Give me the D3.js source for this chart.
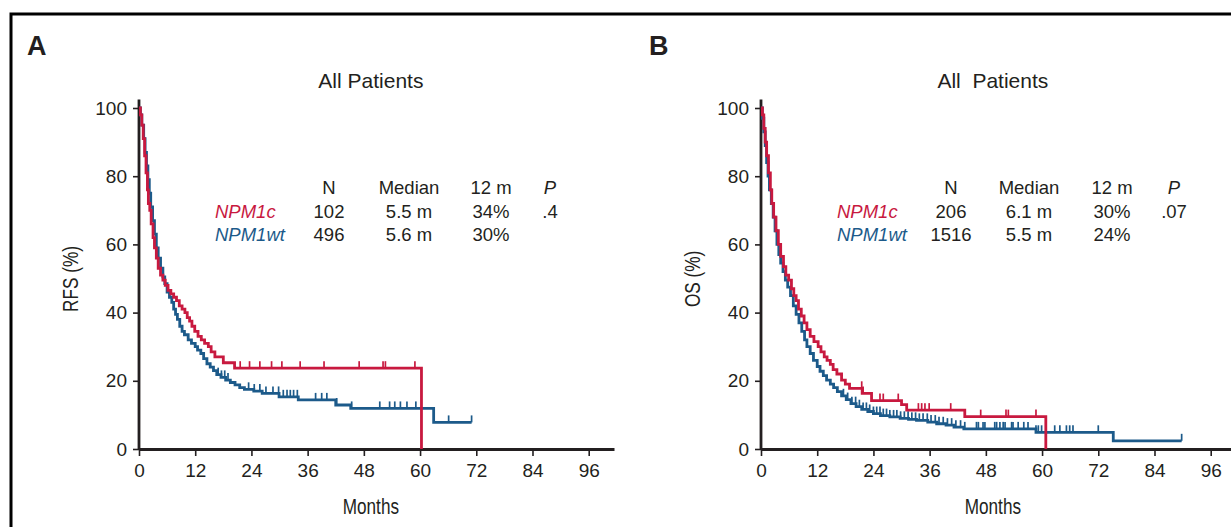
<!DOCTYPE html>
<html>
<head>
<meta charset="utf-8">
<style>
  body {margin: 0; background: #fff; font-family: "Liberation Sans", Arial, sans-serif;}
</style>
<script src="https://d3js.org/d3.v7.min.js"></script>
</head>
<body>
<div id="chart"></div>
<script>

const W = 1231, H = 527
const red = '#c8193f'
const blue = '#1c5a8a'
const ink = '#231f20'

const xTicks = [0, 12, 24, 36, 48, 60, 72, 84, 96]
const yTicks = [0, 20, 40, 60, 80, 100]
const panelLabels = ['A', 'B']
const titles = ['All Patients', 'All  Patients']
const yLabels = ['RFS (%)', 'OS (%)']
const tableHeader = ['N', 'Median', '12 m', 'P']
const groups = ['NPM1c', 'NPM1wt']

// table values per panel: [N, median, 12m, P]
const tableA = [['102', '5.5 m', '34%', '.4'], ['496', '5.6 m', '30%', '']]
const tableB = [['206', '6.1 m', '30%', '.07'], ['1516', '5.5 m', '24%', '']]

// step curves: [months, survival %]
const rfsNpm1c = [[0,100],[0.3,98],[0.6,95],[0.9,91],[1.2,86],[1.5,81],[1.8,76],[2.0,72],[2.3,70],[2.6,66],[3.0,62],[3.3,59],[3.7,56],[4.1,53],[4.6,51],[5.1,49.5],[5.6,48],[6.2,46.5],[6.8,45.5],[7.4,44.5],[8.0,43.5],[8.6,42],[9.2,41],[9.8,40],[10.3,38.5],[10.8,37.5],[11.3,36],[11.9,34.5],[12.6,33],[13.3,32],[14.0,31],[14.8,30],[15.4,28.5],[16.2,27],[18.0,25.3],[20.4,23.7],[60.3,0]]
const rfsNpm1wt = [[0,100],[0.3,98],[0.6,95],[1.0,91],[1.3,87],[1.6,83],[1.9,79],[2.2,75],[2.5,71],[2.9,67],[3.3,63],[3.7,59],[4.1,56],[4.6,53],[5.1,50.5],[5.5,48.5],[6.0,46],[6.5,44.5],[7.0,43],[7.4,41],[7.8,39.5],[8.2,38],[8.7,36],[9.2,34.5],[9.7,33.5],[10.5,32],[11.2,31],[12.0,30],[12.5,29],[13.2,28],[13.8,26.5],[14.5,25],[15.2,24],[15.9,23],[16.6,21.8],[17.5,21],[18.5,20.2],[19.5,19.5],[20.5,18.8],[21.5,18],[22.5,17.5],[24.5,17],[26.3,16.3],[29.9,15.3],[34.0,14.4],[42.0,12.9],[45.2,11.9],[62.9,7.8],[71.0,7.8]]
const osNpm1c = [[0,100],[0.3,98],[0.6,94],[0.9,90],[1.2,86],[1.6,81],[2.0,76],[2.3,72],[2.7,68],[3.2,64],[3.7,60],[4.2,56.5],[4.8,53.5],[5.3,51],[5.9,49.5],[6.5,47],[7.0,45],[7.5,43.5],[8.0,41],[8.6,39],[9.2,37],[9.8,35],[10.5,33],[11.3,31.5],[12.2,30],[12.8,28.5],[13.5,27],[14.1,26],[14.8,24.8],[15.4,23.3],[16.2,22],[17.2,20.2],[18.0,19],[18.9,17.8],[21.6,16.3],[23.6,14.2],[30.0,13.0],[31.1,11.4],[43.5,9.5],[60.8,0]]
const osNpm1wt = [[0,100],[0.3,97],[0.6,93],[0.9,89],[1.2,84],[1.5,80],[1.8,76],[2.2,72],[2.6,68],[3.0,64],[3.4,60],[3.8,57],[4.2,54.5],[4.7,52],[5.2,49.5],[5.7,47.5],[6.3,45],[6.9,42],[7.5,39.5],[8.1,37],[8.7,34.5],[9.3,32],[9.8,30],[10.5,28],[11.2,26],[12.0,24.2],[12.6,22.8],[13.3,21.5],[14.0,20.2],[14.8,19],[15.5,18],[16.3,16.8],[17.2,15.6],[18.2,14.5],[19.2,13.3],[20.3,12.4],[21.5,11.6],[22.8,11],[24.0,10.4],[25.5,9.8],[27.5,9.4],[29.7,9.0],[31.5,8.7],[33.2,8.4],[35.6,7.9],[37.5,7.4],[39.5,7.0],[41.2,6.4],[43.3,5.9],[58.7,4.9],[75.2,2.4],[89.8,2.4]]

// censored observations (months)
const rfsCensNpm1c = [21.6, 23.6, 25.8, 28.3, 30.5, 34.4, 39.5, 47.0, 52.1, 52.6, 58.9]
const rfsCensNpm1wt = [16.9, 17.6, 18.3, 19.0, 23.4, 24.6, 25.8, 27.1, 28.6, 29.8, 30.8, 31.6, 32.3, 33.0, 33.8, 37.7, 39.0, 40.1, 42.2, 45.4, 51.4, 53.5, 54.6, 55.8, 57.2, 59.1, 66.1, 71.0]
const osCensNpm1c = [21.5, 21.8, 25.4, 26.1, 29.3, 33.6, 34.3, 35.0, 35.9, 40.5, 46.9, 52.3, 52.8, 58.7]
const osCensNpm1wt = [17.6, 18.5, 19.4, 20.2, 21.0, 21.8, 22.5, 23.2, 24.0, 24.7, 25.4, 26.1, 26.8, 27.5, 28.3, 29.0, 29.8, 30.6, 31.4, 32.2, 33.0, 33.8, 34.6, 35.5, 36.3, 37.2, 38.0, 38.9, 39.8, 40.7, 41.6, 42.6, 43.5, 46.0, 46.4, 47.4, 47.8, 49.9, 50.3, 51.0, 51.7, 52.1, 53.5, 53.8, 54.9, 56.1, 57.0, 58.7, 59.2, 59.9, 62.7, 63.8, 65.2, 65.9, 66.6, 72.0, 89.8]

const panels = [
  {ox: 139, label: panelLabels[0], title: titles[0], ylab: yLabels[0], table: tableA, tableX: [215, 329, 409, 491, 550],
   curves: [{d: rfsNpm1c, c: rfsCensNpm1c, col: red}, {d: rfsNpm1wt, c: rfsCensNpm1wt, col: blue}]},
  {ox: 761, label: panelLabels[1], title: titles[1], ylab: yLabels[1], table: tableB, tableX: [837, 951, 1029, 1112, 1174],
   curves: [{d: osNpm1c, c: osCensNpm1c, col: red}, {d: osNpm1wt, c: osCensNpm1wt, col: blue}]}
]

const svg = d3.select('#chart').append('svg')
  .attr('width', W)
  .attr('height', H)

// frame (top + left edge of figure box)
svg.append('path')
  .attr('d', 'M11,527 L11,14 L1231,14')
  .attr('fill', 'none')
  .attr('stroke', '#000')
  .attr('stroke-width', 3)

const y = d3.scaleLinear().domain([0, 100]).range([449, 108])

function survAt(data, t) {
  let s = data[0][1]
  for (const p of data) { if (p[0] <= t) s = p[1]; else break }
  return s
}

panels.forEach((p, i) => {
  const x = d3.scaleLinear().domain([0, 101.4]).range([p.ox, p.ox + 475])
  const g = svg.append('g')
  const panelLeft = i === 0 ? 0 : 622

  g.append('text')
    .attr('x', panelLeft + 27).attr('y', 55)
    .style('font-size', '27px').style('font-weight', 'bold').style('fill', ink)
    .text(p.label)

  g.append('text')
    .attr('x', x(49.5)).attr('y', 88)
    .attr('text-anchor', 'middle')
    .style('font-size', '21px').style('fill', ink)
    .style('white-space', 'pre')
    .text(p.title)

  // axes
  const yAxis = g.append('g')
    .attr('transform', 'translate(' + p.ox + ',0)')
    .call(d3.axisLeft(y).tickValues(yTicks).tickSize(6).tickPadding(6).tickSizeOuter(0))
  yAxis.select('.domain').attr('d', 'M0,' + y(102.5) + 'V' + y(0))

  g.append('g')
    .attr('transform', 'translate(0,449)')
    .call(d3.axisBottom(x).tickValues(xTicks).tickSize(7).tickPadding(8).tickSizeOuter(0))

  g.selectAll('.domain').attr('stroke', ink).attr('stroke-width', 2.8)
  g.selectAll('.tick line').attr('stroke', ink).attr('stroke-width', 1.6)
  g.selectAll('.tick text').style('font-size', '19px').style('font-family', '"Liberation Sans", Arial, sans-serif').attr('fill', ink)

  // condensed axis titles
  g.append('text')
    .attr('transform', 'translate(' + (p.ox - 61) + ',279) rotate(-90) scale(0.78,1)')
    .attr('text-anchor', 'middle')
    .style('font-size', '22px').style('fill', ink)
    .text(p.ylab)

  g.append('text')
    .attr('transform', 'translate(' + x(49.5) + ',514) scale(0.78,1)')
    .attr('text-anchor', 'middle')
    .style('font-size', '22px').style('fill', ink)
    .text('Months')

  // curves
  const line = d3.line()
    .x(d => x(d[0]))
    .y(d => y(d[1]))
    .curve(d3.curveStepAfter)

  p.curves.slice().reverse().forEach(cv => {
    g.append('path')
      .datum(cv.d)
      .attr('d', line)
      .attr('fill', 'none')
      .attr('stroke', cv.col)
      .attr('stroke-width', 2.8)

    g.append('g').selectAll('line')
      .data(cv.c)
      .enter().append('line')
      .attr('x1', d => x(d)).attr('x2', d => x(d))
      .attr('y1', d => y(survAt(cv.d, d)))
      .attr('y2', d => y(survAt(cv.d, d)) - 7)
      .attr('stroke', cv.col)
      .attr('stroke-width', 1.7)
  })

  // table
  const tx = p.tableX
  tableHeader.forEach((h, j) => {
    g.append('text')
      .attr('x', tx[j + 1]).attr('y', 194)
      .attr('text-anchor', 'middle')
      .style('font-size', '18.5px').style('fill', ink)
      .style('font-style', h === 'P' ? 'italic' : 'normal')
      .text(h)
  })
  groups.forEach((gr, r) => {
    const yy = 218 + r * 23
    g.append('text')
      .attr('x', tx[0]).attr('y', yy)
      .style('font-size', '18.5px').style('font-style', 'italic')
      .style('fill', r === 0 ? red : blue)
      .text(gr)
    p.table[r].forEach((v, j) => {
      g.append('text')
        .attr('x', tx[j + 1]).attr('y', yy)
        .attr('text-anchor', 'middle')
        .style('font-size', '18.5px').style('fill', ink)
        .text(v)
    })
  })
})

</script>
</body>
</html>
